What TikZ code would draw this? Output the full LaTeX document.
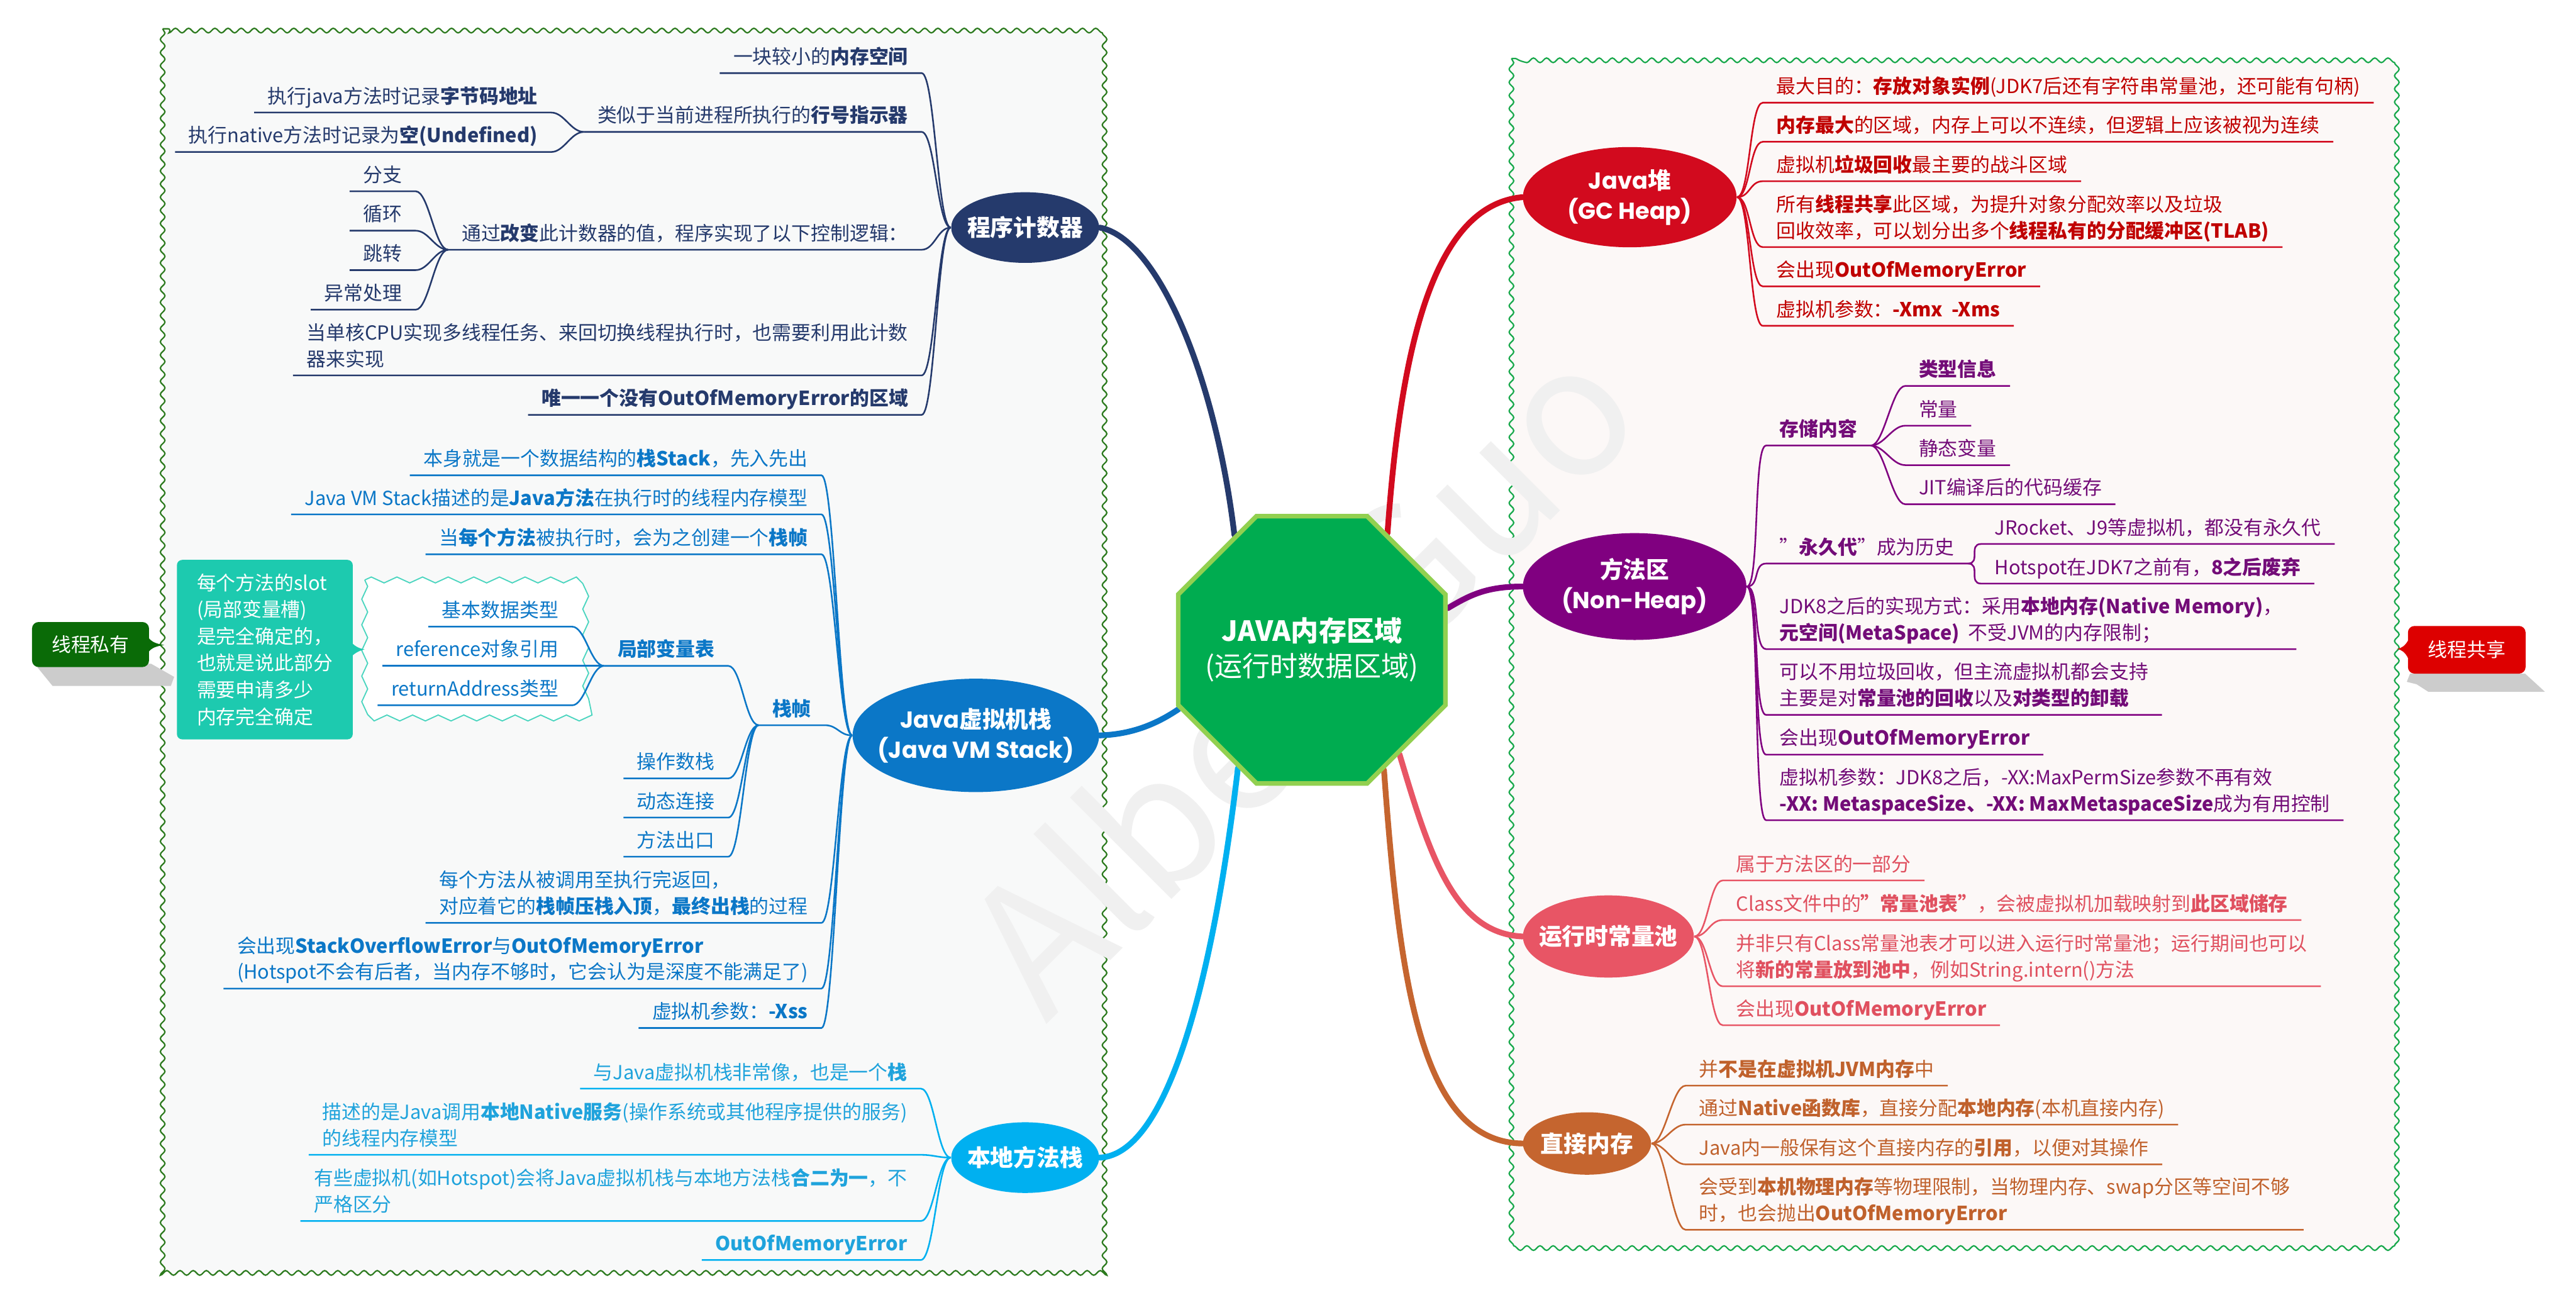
\documentclass[tikz,border=0pt]{standalone}
\usepackage{fontspec}
\setmainfont{Noto Sans CJK SC}
\newfontfamily\geofont{Poppins}
\usetikzlibrary{shapes.geometric,decorations.pathmorphing,backgrounds}

\definecolor{privframe}{HTML}{2C7A1E}
\definecolor{shareframe}{HTML}{18A84B}
\definecolor{privbg}{HTML}{F8F9F9}
\definecolor{sharebg}{HTML}{FCF8F7}
\definecolor{rootgreen}{HTML}{00AC50}
\definecolor{rootrim}{HTML}{92D050}
\definecolor{pcblue}{HTML}{253A6C}
\definecolor{jsblue}{HTML}{0B77C7}
\definecolor{nmblue}{HTML}{00B0F0}
\definecolor{nmtext}{HTML}{1FA3DC}
\definecolor{heapred}{HTML}{D20A1E}
\definecolor{heaptext}{HTML}{C00000}
\definecolor{mapurple}{HTML}{800080}
\definecolor{matext}{HTML}{730C78}
\definecolor{rcpink}{HTML}{E85565}
\definecolor{rctext}{HTML}{E0505F}
\definecolor{dmbrown}{HTML}{C5652F}
\definecolor{dmtext}{HTML}{C0612C}
\definecolor{slotteal}{HTML}{1DCAAF}
\definecolor{privgreen}{HTML}{0A6B07}
\definecolor{sharered}{HTML}{DD0000}
\definecolor{shadowgray}{HTML}{CCCCCC}

\newcommand{\itemfont}{\fontsize{8.4pt}{11.4pt}\selectfont}
\newcommand{\topicfont}{\bfseries\fontsize{10pt}{13pt}\selectfont}

\newcommand{\leftlink}[3]{%
    \draw[twig, #1] (#2.south west) -- (#2.south east) .. controls +(8,0) and +(-8,0) .. (#3);%
}
\newcommand{\rightlink}[3]{%
    \draw[twig, #1] (#3) .. controls +(8,0) and +(-8,0) .. (#2.south west) -- (#2.south east);%
}

\tikzset{
    leaf/.style={inner xsep=0.2cm, inner ysep=0.135cm, text depth=0pt, font=\itemfont},
    lleaf/.style={leaf, anchor=south east, text=#1},
    rleaf/.style={leaf, anchor=south west, text=#1},
    topic/.style={ellipse, fill=#1, inner sep=0pt},
    topictext/.style={text=white, font=\topicfont, align=center},
    twig/.style={line width=0.7pt},
    trunk/.style={line width=2.5pt, line cap=round},
    wavy/.style={decorate, decoration={snake, segment length=0.2cm, amplitude=0.035cm}},
    jagged/.style={decorate, decoration={zigzag, segment length=0.39cm, amplitude=0.045cm}},
    callout/.style={rectangle, rounded corners=0.1cm, fill=#1, text=white, font=\itemfont},
}

\begin{document}
\begin{tikzpicture}[x=0.025cm, y=-0.025cm]
    \useasboundingbox (0,0) rectangle (1568,791);

    %% frames and watermark
    \begin{scope}[on background layer]
        \fill[white] (0,0) rectangle (1568,791);
        \draw[wavy, draw=privframe, fill=privbg, line width=0.6pt] (99,17.5) rectangle (676,773);
        \draw[wavy, draw=shareframe, fill=sharebg, line width=0.6pt] (920,35.6) rectangle (1457,754.6);
        \node[rotate=45, text=black!6, font=\fontsize{78pt}{78pt}\selectfont] (mark) at (790,410) {AlbertGuo};
    \end{scope}

    %% root
    \node[regular polygon, regular polygon sides=8, minimum size=4.4cm, inner sep=0pt,
          fill=rootgreen, draw=rootrim, line width=2pt] (root) at (798.5,395.5) {};
    \node[text=white, align=center, font=\fontsize{12pt}{15.2pt}\selectfont] (roott) at (root)
          {{\bfseries JAVA内存区域}\\(运行时数据区域)};

    %% topics
    \node[topic=pcblue, minimum width=2.25cm, minimum height=1.075cm] (pc) at (624,138.5) {};
    \node[topictext] (pct) at (pc) {程序计数器};
    \node[topic=jsblue, minimum width=3.75cm, minimum height=1.725cm] (js) at (594,447.6) {};
    \node[topictext] (jst) at (js) {{\geofont Java}虚拟机栈\\{\geofont (Java VM Stack)}};
    \node[topic=nmblue, minimum width=2.25cm, minimum height=1.075cm] (nm) at (624,704.6) {};
    \node[topictext] (nmt) at (nm) {本地方法栈};
    \node[topic=heapred, minimum width=3.25cm, minimum height=1.525cm] (hp) at (992,120) {};
    \node[topictext] (hpt) at (hp) {{\geofont Java}堆\\{\geofont (GC Heap)}};
    \node[topic=mapurple, minimum width=3.4cm, minimum height=1.625cm] (ma) at (995,357) {};
    \node[topictext] (mat) at (ma) {方法区\\{\geofont (Non-Heap)}};
    \node[topic=rcpink, minimum width=2.6cm, minimum height=1.25cm] (rc) at (979,570) {};
    \node[topictext] (rct) at (rc) {运行时常量池};
    \node[topic=dmbrown, minimum width=1.95cm, minimum height=0.95cm] (dm) at (966,696) {};
    \node[topictext] (dmt) at (dm) {直接内存};

    %% side callouts
    \fill[shadowgray] (21,404) -- (92,404) -- (106,412) -- (104,417.5) -- (32,417.5) -- cycle;
    \node[callout=privgreen, minimum width=1.78cm, minimum height=0.685cm] (priv) at (55.1,392.3) {线程私有};
    \fill[privgreen] (90,387.5) .. controls (92,391) and (96,392) .. (100,392.6) .. controls (96,393.2) and (92,394) .. (90,397.5) -- cycle;

    \fill[shadowgray] (1467,410) -- (1537,410) -- (1549,421) -- (1478,421) -- (1471,416.5) -- (1465,415) -- cycle;
    \node[callout=sharered, minimum width=1.79cm, minimum height=0.725cm] (share) at (1501.5,395.5) {线程共享};
    \fill[sharered] (1466,389.5) .. controls (1464,393) and (1462,394.5) .. (1459,395) .. controls (1462,395.5) and (1464,397) .. (1466,401) -- cycle;

    %% 程序计数器
    \node[lleaf=pcblue] (pc1) at (561,44.5) {一块较小的\textbf{内存空间}};
    \node[lleaf=pcblue] (pc2) at (561,80.3) {类似于当前进程所执行的\textbf{行号指示器}};
    \node[lleaf=pcblue] (pc2a) at (335.5,68.5) {执行java方法时记录\textbf{字节码地址}};
    \node[lleaf=pcblue] (pc2b) at (335.5,92.5) {执行native方法时记录为\textbf{空(Undefined)}};
    \node[lleaf=pcblue] (pc3) at (561,152) {通过\textbf{改变}此计数器的值，程序实现了以下控制逻辑：};
    \node[lleaf=pcblue] (pc3a) at (253,116.4) {分支};
    \node[lleaf=pcblue] (pc3b) at (253,140.4) {循环};
    \node[lleaf=pcblue] (pc3c) at (253,164.4) {跳转};
    \node[lleaf=pcblue] (pc3d) at (253,188.5) {异常处理};
    \node[lleaf=pcblue, align=left] (pc4) at (561,228.5) {当单核CPU实现多线程任务、来回切换线程执行时，也需要利用此计数\\器来实现};
    \node[lleaf=pcblue] (pc5) at (561,252.5) {\textbf{唯一一个没有OutOfMemoryError的区域}};
    \foreach \n in {pc1,pc2,pc3,pc4,pc5} {\leftlink{pcblue}{\n}{pc.west}}
    \foreach \n in {pc2a,pc2b} {\leftlink{pcblue}{\n}{pc2.south west}}
    \foreach \n in {pc3a,pc3b,pc3c,pc3d} {\leftlink{pcblue}{\n}{pc3.south west}}

    %% Java虚拟机栈
    \draw[jagged, draw=slotteal!80, fill=white, line width=0.5pt] (222,353) rectangle (356.5,437);
    \node[callout=slotteal, rounded corners=0.08cm, minimum width=2.675cm, minimum height=2.73cm, align=left,
          font=\fontsize{8.4pt}{11.6pt}\selectfont] (slot) at (161.2,395.4)
          {每个方法的slot\\(局部变量槽)\\是完全确定的，\\也就是说此部分\\需要申请多少\\内存完全确定};
    \fill[slotteal] (214,391) .. controls (216,393.5) and (219,394.8) .. (222,395.3) .. controls (219,395.8) and (216,397.5) .. (214,399.5) -- cycle;

    \node[lleaf=jsblue] (js1) at (500,289.3) {本身就是一个数据结构的\textbf{栈Stack}，先入先出};
    \node[lleaf=jsblue] (js2) at (500,313.1) {Java VM Stack描述的是\textbf{Java方法}在执行时的线程内存模型};
    \node[lleaf=jsblue] (js3) at (500,337.4) {当\textbf{每个方法}被执行时，会为之创建一个\textbf{栈帧}};
    \node[lleaf=jsblue] (js4) at (502,441.4) {\textbf{栈帧}};
    \node[lleaf=jsblue] (js4a) at (443.3,405.3) {\textbf{局部变量表}};
    \node[lleaf=jsblue] (js4a1) at (348.2,381.4) {基本数据类型};
    \node[lleaf=jsblue] (js4a2) at (348.2,405.3) {reference对象引用};
    \node[lleaf=jsblue] (js4a3) at (348.2,429.3) {returnAddress类型};
    \node[lleaf=jsblue] (js4b) at (443.3,473.8) {操作数栈};
    \node[lleaf=jsblue] (js4c) at (443.3,497.6) {动态连接};
    \node[lleaf=jsblue] (js4d) at (443.3,521.4) {方法出口};
    \node[lleaf=jsblue, align=left] (js5) at (500,561.7) {每个方法从被调用至执行完返回，\\对应着它的\textbf{栈帧压栈入顶}，\textbf{最终出栈}的过程};
    \node[lleaf=jsblue, align=left] (js6) at (500,601.7) {会出现\textbf{StackOverflowError}与\textbf{OutOfMemoryError}\\(Hotspot不会有后者，当内存不够时，它会认为是深度不能满足了)};
    \node[lleaf=jsblue] (js7) at (500,625.7) {虚拟机参数：\textbf{-Xss}};
    \foreach \n in {js1,js2,js3,js4,js5,js6,js7} {\leftlink{jsblue}{\n}{js.west}}
    \foreach \n in {js4a,js4b,js4c,js4d} {\leftlink{jsblue}{\n}{js4.south west}}
    \foreach \n in {js4a1,js4a2,js4a3} {\leftlink{jsblue}{\n}{js4a.south west}}

    %% 本地方法栈
    \node[lleaf=nmtext] (nm1) at (560.5,662.6) {与Java虚拟机栈非常像，也是一个\textbf{栈}};
    \node[lleaf=nmtext, align=left] (nm2) at (560.5,702.9) {描述的是Java调用\textbf{本地Native服务}(操作系统或其他程序提供的服务)\\的线程内存模型};
    \node[lleaf=nmtext, align=left] (nm3) at (560.5,743.2) {有些虚拟机(如Hotspot)会将Java虚拟机栈与本地方法栈\textbf{合二为一}，不\\严格区分};
    \node[lleaf=nmtext] (nm4) at (560.5,766.9) {\textbf{OutOfMemoryError}};
    \foreach \n in {nm1,nm2,nm3,nm4} {\leftlink{nmblue}{\n}{nm.west}}

    %% Java堆
    \node[rleaf=heaptext] (hp1) at (1073,62.5) {最大目的：\textbf{存放对象实例}(JDK7后还有字符串常量池，还可能有句柄)};
    \node[rleaf=heaptext] (hp2) at (1073,86.3) {\textbf{内存最大}的区域，内存上可以不连续，但逻辑上应该被视为连续};
    \node[rleaf=heaptext] (hp3) at (1073,110.3) {虚拟机\textbf{垃圾回收}最主要的战斗区域};
    \node[rleaf=heaptext, align=left] (hp4) at (1073,150.4) {所有\textbf{线程共享}此区域，为提升对象分配效率以及垃圾\\回收效率，可以划分出多个\textbf{线程私有的分配缓冲区(TLAB)}};
    \node[rleaf=heaptext] (hp5) at (1073,174.3) {会出现\textbf{OutOfMemoryError}};
    \node[rleaf=heaptext] (hp6) at (1073,198.3) {虚拟机参数：\textbf{-Xmx\ \ -Xms}};
    \foreach \n in {hp1,hp2,hp3,hp4,hp5,hp6} {\rightlink{heapred}{\n}{hp.east}}

    %% 方法区
    \node[rleaf=matext] (ma1) at (1075,271.2) {\textbf{存储内容}};
    \node[rleaf=matext] (ma1a) at (1159.7,234.9) {\textbf{类型信息}};
    \node[rleaf=matext] (ma1b) at (1159.7,259.1) {常量};
    \node[rleaf=matext] (ma1c) at (1159.7,283.1) {静态变量};
    \node[rleaf=matext] (ma1d) at (1159.7,306.9) {JIT编译后的代码缓存};
    \node[rleaf=matext] (ma2) at (1075,343) {"\textbf{永久代}"成为历史};
    \node[rleaf=matext] (ma2a) at (1205.9,331.1) {JRocket、J9等虚拟机，都没有永久代};
    \node[rleaf=matext] (ma2b) at (1205.9,355.2) {Hotspot在JDK7之前有，\textbf{8之后废弃}};
    \node[rleaf=matext, align=left] (ma3) at (1075,395.1) {JDK8之后的实现方式：采用\textbf{本地内存(Native Memory)}，\\\textbf{元空间(MetaSpace)}\ \ 不受JVM的内存限制；};
    \node[rleaf=matext, align=left] (ma4) at (1075,435.1) {可以不用垃圾回收，但主流虚拟机都会支持\\主要是对\textbf{常量池的回收}以及\textbf{对类型的卸载}};
    \node[rleaf=matext] (ma5) at (1075,459.3) {会出现\textbf{OutOfMemoryError}};
    \node[rleaf=matext, align=left] (ma6) at (1075,499.2) {虚拟机参数：JDK8之后，-XX:MaxPermSize参数不再有效\\\textbf{-XX: MetaspaceSize、-XX: MaxMetaspaceSize}成为有用控制};
    \foreach \n in {ma1,ma2,ma3,ma4,ma5,ma6} {\rightlink{mapurple}{\n}{ma.east}}
    \foreach \n in {ma1a,ma1b,ma1c,ma1d} {\rightlink{mapurple}{\n}{ma1.south east}}
    \foreach \n in {ma2a,ma2b} {\rightlink{mapurple}{\n}{ma2.south east}}

    %% 运行时常量池
    \node[rleaf=rctext] (rc1) at (1048.6,535.9) {属于方法区的一部分};
    \node[rleaf=rctext] (rc2) at (1048.6,560) {Class文件中的\textbf{"常量池表"}，会被虚拟机加载映射到\textbf{此区域储存}};
    \node[rleaf=rctext, align=left] (rc3) at (1048.6,600.3) {并非只有Class常量池表才可以进入运行时常量池；运行期间也可以\\将\textbf{新的常量放到池中}，例如String.intern()方法};
    \node[rleaf=rctext] (rc4) at (1048.6,624) {会出现\textbf{OutOfMemoryError}};
    \foreach \n in {rc1,rc2,rc3,rc4} {\rightlink{rcpink}{\n}{rc.east}}

    %% 直接内存
    \node[rleaf=dmtext] (dm1) at (1026,660.8) {并\textbf{不是在虚拟机JVM内存}中};
    \node[rleaf=dmtext] (dm2) at (1026,684.5) {通过\textbf{Native函数库}，直接分配\textbf{本地内存}(本机直接内存)};
    \node[rleaf=dmtext] (dm3) at (1026,708.7) {Java内一般保有这个直接内存的\textbf{引用}，以便对其操作};
    \node[rleaf=dmtext, align=left] (dm4) at (1026,748.5) {会受到\textbf{本机物理内存}等物理限制，当物理内存、swap分区等空间不够\\时，也会抛出\textbf{OutOfMemoryError}};
    \foreach \n in {dm1,dm2,dm3,dm4} {\rightlink{dmbrown}{\n}{dm.east}}

    %% trunks from the root
    \begin{scope}[on background layer]
        \draw[trunk, pcblue] (pc.east) .. controls (705,145) and (740,230) .. (root.124);
        \draw[trunk, heapred] (hp.west) .. controls (870,125) and (852,220) .. (root.57);
        \draw[trunk, mapurple] (ma.west) .. controls (905,357) and (895,362) .. (root.17);
        \draw[trunk, jsblue] (js.east) .. controls (690,447) and (705,440) .. (root.204);
        \draw[trunk, nmblue] (nm.east) .. controls (710,703) and (738,600) .. (root.238);
        \draw[trunk, rcpink] (rc.west) .. controls (885,568) and (870,520) .. (root.310);
        \draw[trunk, dmbrown] (dm.west) .. controls (865,695) and (852,600) .. (root.301);
    \end{scope}

\end{tikzpicture}
\end{document}
